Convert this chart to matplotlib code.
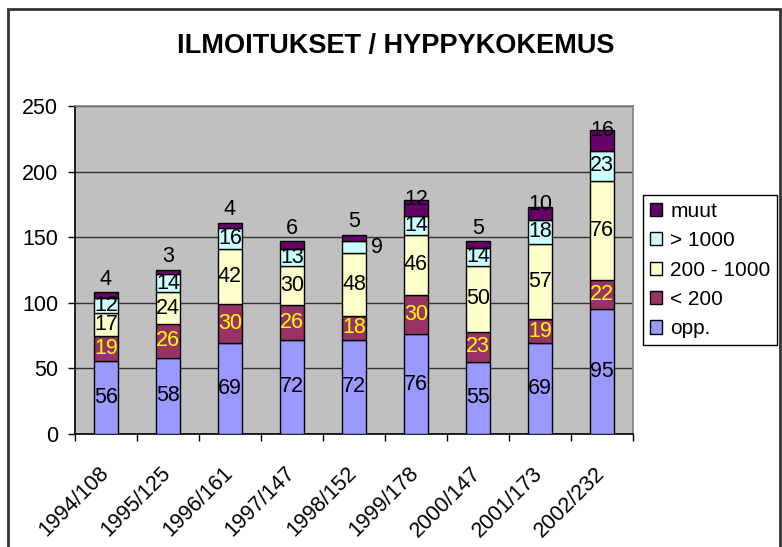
import numpy as np
import matplotlib
matplotlib.use("Agg")
import matplotlib.pyplot as plt
from matplotlib.patches import Rectangle

plt.rcParams['font.family'] = ['Liberation Sans', 'DejaVu Sans']

# data
years = ["1994/108", "1995/125", "1996/161", "1997/147", "1998/152",
         "1999/178", "2000/147", "2001/173", "2002/232"]
opp = [56, 58, 69, 72, 72, 76, 55, 69, 95]
alle_200 = [19, 26, 30, 26, 18, 30, 23, 19, 22]
v200_1000 = [17, 24, 42, 30, 48, 46, 50, 57, 76]
yli_1000 = [12, 14, 16, 13, 9, 14, 14, 18, 23]
muut = [4, 3, 4, 6, 5, 12, 5, 10, 16]

series = [
    ("opp.", opp, "#9999FF", "black"),
    ("< 200", alle_200, "#993366", "#FFFF00"),
    ("200 - 1000", v200_1000, "#FFFFCC", "black"),
    ("> 1000", yli_1000, "#CCFFFF", "black"),
    ("muut", muut, "#660066", "black"),
]

fs = 15.5

fig = plt.figure(figsize=(7.82, 5.47), dpi=100)
ax = fig.add_axes([75 / 782, 1 - 434 / 547, 558 / 782, 328 / 547])
ax.set_facecolor("#C0C0C0")

x = np.arange(len(years))
bw = 0.39
bottom = np.zeros(len(years))
handles = []
for name, vals, col, tcol in series:
    vals = np.array(vals)
    b = ax.bar(x, vals, bw, bottom=bottom, color=col, edgecolor="black",
               linewidth=1, label=name, zorder=3)
    handles.append(b)
    for i, v in enumerate(vals):
        cy = bottom[i] + v / 2
        cx = x[i]
        if name == "muut":
            cy = bottom[i] + v + 10 if v < 8 else cy + 7
        if name == "> 1000" and v < 10:
            cx = x[i] + 0.37
        ax.text(cx, cy, str(v), ha="center", va="center", fontsize=fs,
                color=tcol, zorder=4)
    bottom = bottom + vals

ax.set_xlim(-0.5, len(years) - 0.5)
ax.set_ylim(0, 250)
ax.set_yticks(np.arange(0, 251, 50))
ax.yaxis.grid(True, color="#333333", linewidth=1, zorder=1)
ax.set_axisbelow(True)

ax.set_xticks(np.arange(-0.5, len(years), 1))
ax.set_xticklabels([])
ax.set_xticks(x, minor=True)
ax.set_xticklabels(years, minor=True, rotation=45, ha="right", va="center",
                   rotation_mode="anchor", fontsize=fs)
ax.tick_params(axis="x", which="minor", length=0, pad=26)
ax.tick_params(axis="x", which="major", length=5, width=1, direction="out")
ax.tick_params(axis="y", length=5, width=1, direction="out", labelsize=fs, pad=7)

for s in ["top", "right"]:
    ax.spines[s].set_color("#808080")
    ax.spines[s].set_linewidth(1.2)
for s in ["left", "bottom"]:
    ax.spines[s].set_color("black")
    ax.spines[s].set_linewidth(1.2)

leg = ax.legend(handles[::-1], [s[0] for s in series][::-1],
                loc="upper left", bbox_to_anchor=(643 / 782, 1 - 195 / 547),
                bbox_transform=fig.transFigure, fontsize=15, frameon=True,
                fancybox=False, edgecolor="black", framealpha=1,
                handlelength=0.6, handleheight=0.6, handletextpad=0.38,
                labelspacing=0.5, borderpad=0.32, borderaxespad=0)
leg.get_frame().set_linewidth(1)

fig.text(396 / 782, 1 - 46 / 547, "ILMOITUKSET / HYPPYKOKEMUS", ha="center",
         va="center", fontsize=19.5, fontweight="bold")

# outer chart border
fig.patches.append(Rectangle((8 / 782, -0.05), 772 / 782, 1.05 - 9 / 547,
                             transform=fig.transFigure, fill=False,
                             edgecolor="#333333", linewidth=2))

fig.savefig("out.png", dpi=100)
